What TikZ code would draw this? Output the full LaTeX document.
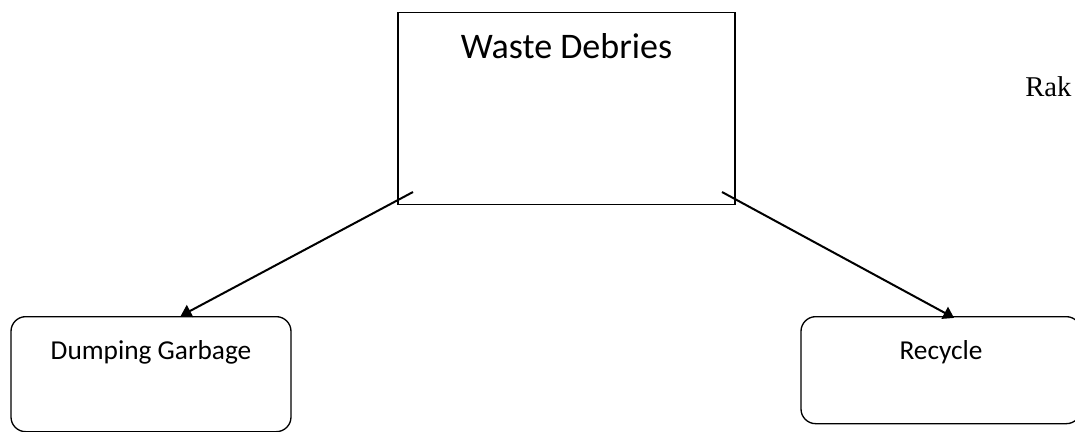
\documentclass[tikz,border=0pt]{standalone}
\usepackage{fontspec}
\setmainfont{Carlito}
\newfontfamily\rakfont{Liberation Serif}
\usetikzlibrary{arrows.meta}

\begin{document}
\begin{tikzpicture}[x=0.75pt, y=-0.75pt,
		topbox/.style={draw, line width=1pt, inner sep=0pt, anchor=north,
			minimum width=252.75pt, text height=34.5pt, text depth=109.5pt,
			font=\fontsize{27}{32}\selectfont},
		leafbox/.style={draw, line width=1pt, rounded corners=11pt, inner sep=0pt,
			anchor=north, minimum width=210pt, text height=32.25pt,
			font=\fontsize{20.5}{24}\selectfont},
		flow/.style={line width=1.5pt, -{Triangle[length=8pt, width=10pt]}}]
		
		\useasboundingbox (0, 0) rectangle (1075, 432);
		
		\node [topbox] (waste) at (566.5, 12) {Waste Debries};
		\node [leafbox, text depth=54pt] (dump) at (151, 316) {Dumping Garbage};
		\node [leafbox, text depth=48pt] (recycle) at (941, 316) {Recycle};
		
		\node [anchor=base west, inner sep=0pt, font=\rakfont\fontsize{21.5}{26}\selectfont] (rak) at (1025, 96) {Rak};
		
		% arrows start inside the top box
		\coordinate (wl) at (413, 192);
		\coordinate (wr) at (722, 192);
		
		\draw [flow] (wl) -- (dump.63);
		\draw [flow, shorten >=-3pt] (wr) -- (recycle.80);
		
\end{tikzpicture}
\end{document}
